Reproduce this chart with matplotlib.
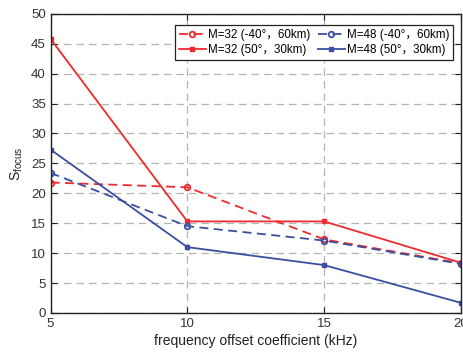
import numpy as np
import matplotlib
matplotlib.use('Agg')
import matplotlib.pyplot as plt

plt.rcParams['font.family'] = ['Liberation Sans', 'Noto Sans CJK SC', 'DejaVu Sans']
plt.rcParams['mathtext.fontset'] = 'custom'
plt.rcParams['mathtext.rm'] = 'Liberation Sans'

freq = [5, 10, 15, 20]
m32_a = [21.8, 21.0, 12.3, 8.3]   # M=32 (-40°, 60km)
m48_a = [23.4, 14.5, 12.1, 8.2]   # M=48 (-40°, 60km)
m32_b = [45.8, 15.3, 15.3, 8.4]   # M=32 (50°, 30km)
m48_b = [27.3, 11.0, 8.0, 1.7]    # M=48 (50°, 30km)

labels = ['M=32 (-40°，60km)', 'M=32 (50°，30km)',
          'M=48 (-40°，60km)', 'M=48 (50°，30km)']

red = '#EE2B2E'
blue = '#3A4FA0'
dash = (0, (5, 3))

fig = plt.figure(figsize=(4.64, 3.54), dpi=100)
ax = fig.add_axes([0.109, 0.116, 0.884, 0.845])

ax.plot(freq, m32_a, ls=dash, color=red, lw=1.3, marker='o', ms=4, mfc='none', mew=1.3, label=labels[0])
ax.plot(freq, m32_b, '-', color=red, lw=1.3, marker='s', ms=3, label=labels[1])
ax.plot(freq, m48_a, ls=dash, color=blue, lw=1.3, marker='o', ms=4, mfc='none', mew=1.3, label=labels[2])
ax.plot(freq, m48_b, '-', color=blue, lw=1.3, marker='s', ms=3, label=labels[3])

ax.set_xlim(5, 20)
ax.set_ylim(0, 50)
ax.set_xticks([5, 10, 15, 20])
ax.set_yticks(np.arange(0, 51, 5))
ax.grid(True, ls=(0, (6, 4)), color='#b4b4b4', lw=0.9)
ax.tick_params(direction='in', top=True, right=True, labelsize=9.5, length=4,
               width=0.8, colors='#222222', labelcolor='#333333')
for s in ax.spines.values():
    s.set_linewidth(1.0)
    s.set_color('#222222')

ax.set_xlabel('frequency offset coefficient (kHz)', fontsize=10, color='#222222', labelpad=3)
ax.set_ylabel(r'S$_{\rm focus}$', fontsize=10, color='#222222', labelpad=4)

leg = ax.legend(ncol=2, loc='upper right', bbox_to_anchor=(0.982, 0.962), fontsize=8.4,
                frameon=True, fancybox=False, edgecolor='#222222', framealpha=1,
                borderpad=0.3, handlelength=2.3, handletextpad=0.25, columnspacing=0.6,
                labelspacing=0.3, borderaxespad=0)
leg.get_frame().set_linewidth(0.9)

fig.savefig('out.png', dpi=100)
